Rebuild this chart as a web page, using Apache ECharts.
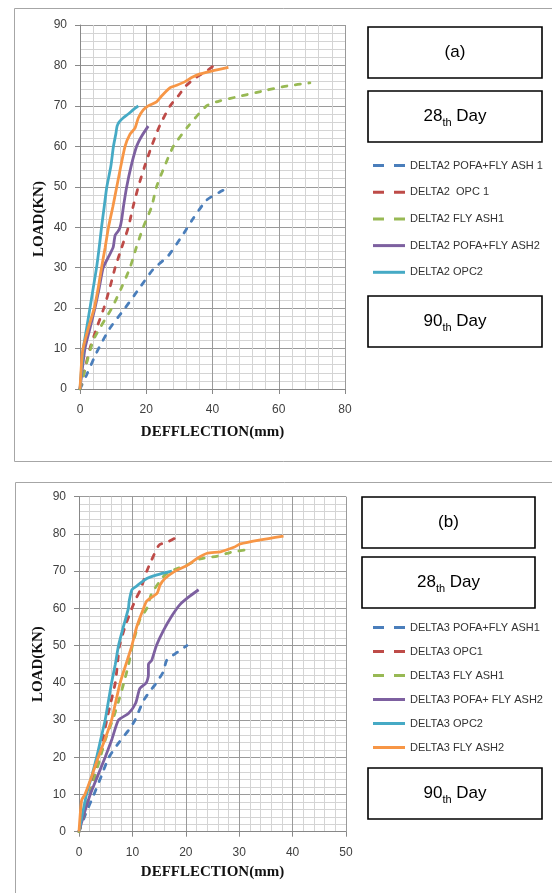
<!DOCTYPE html>
<html>
<head>
<meta charset="utf-8">
<script src="https://cdn.jsdelivr.net/npm/echarts@6/dist/echarts.min.js"></script>
<style>
html,body{margin:0;padding:0;background:#fff;}
#main{width:552px;height:893px;}
</style>
</head>
<body>
<div id="main"></div>
<script>
// panel (a) - DELTA2, [deflection mm, load kN]
var aPofaFly1 = [[0,0],[2,3.5],[5,9],[9,15],[13.6,20],[18,25],[22,29.5],[26.7,33],[30.7,37.7],[34.2,42.2],[38.2,46.7],[42,48.6],[45.3,50]];
var aOpc1 = [[0,0],[1.5,5],[3,10],[5,15],[7.2,20],[9,25],[10.6,30],[12.6,35],[14.6,40],[16,45],[17.6,50],[19.5,55],[21.6,60],[24,65],[27.2,70],[29.7,72.5],[32,75],[35,77],[38,78.5],[40.5,80]];
var aFly1 = [[0,0],[4,12],[9.6,20],[12.5,25],[15.1,30],[17,35],[19.1,40],[21.6,45],[23.1,50],[25.5,55],[28.2,60],[32.7,65],[38.2,70],[42,71.2],[47.8,72.3],[56.4,73.9],[62.4,74.9],[69.4,75.7]];
var aPofaFly2 = [[0,0],[1.5,10],[3,15],[4.5,20],[5.8,25],[7,30],[8.5,32.5],[10,35],[10.6,38],[11.5,39],[12.1,40],[12.6,42],[13.1,45],[14.1,50],[15.4,55],[17.1,60],[18.6,62.5],[20.6,65]];
var aOpc2 = [[0,0],[1,10],[2,15],[3,20],[4,25],[5,30],[5.8,35],[6.5,40],[7.3,45],[8.1,50],[9.3,55],[10.1,60],[10.8,63],[11.2,65],[11.8,66],[13,67],[14.6,68],[16,69],[17.6,70]];
var aFly2 = [[0,0],[0.8,9.5],[2.5,15],[4.3,20],[5.5,25],[6.5,30],[7.6,35],[8.6,40],[9.9,45],[11.1,50],[12.3,55],[13.6,60],[15.1,63],[16.6,64.5],[17.6,67],[19.1,69],[20.6,70],[23.1,71],[24.7,72.5],[27.2,74.5],[29.2,75.1],[31.7,76],[33.7,77],[36.2,77.9],[40.2,78.7],[44.8,79.5]];

// panel (b) - DELTA3
var bPofaFly1 = [[0,0],[1.3,5],[2.8,10],[4.2,15],[5.6,20],[7.5,24],[9.3,27.3],[10.5,30],[12,35],[13,37.2],[14.5,40],[15.8,43],[16.4,46],[17.7,47.5],[20.2,50]];
var bOpc1 = [[0,0],[1,5],[2,10],[2.8,15],[3.8,20],[4.5,25],[5.2,30],[6,35],[6.8,40],[7.2,45],[7.6,50],[8.6,55],[9.9,60],[10.8,63],[11.5,65],[12.7,70],[13.6,73],[15,77],[16.8,78],[18.2,79]];
var bFly1 = [[0,0],[1,5],[2,10],[3,15],[4,20],[5,25],[6.3,30],[7.4,35],[8.4,40],[9.3,45],[10,50],[11.4,57],[12.7,60],[13.6,64],[15,67],[16.1,69],[18,70.5],[20,71.5],[22.7,73.3],[25.8,74],[28.3,75],[31.5,75.8]];
var bPofaFly2 = [[0,0],[1,5],[2.1,10],[3.5,15],[4.9,20],[6.2,25],[7.4,30],[9.3,31.8],[10.6,34.5],[11.4,38.5],[12.6,40],[13,42],[13,45],[13.6,46],[14.5,50],[15.8,54],[17.4,58],[18.9,61],[20.5,63],[22.4,65]];
var bOpc2 = [[0,0],[1.4,10],[2.4,15],[3.3,20],[4.1,25],[4.9,30],[5.5,35],[6.1,40],[6.8,45],[7.4,50],[8.3,55],[9.25,60],[9.4,62],[9.9,65],[10.8,66],[12.7,68],[14.6,69],[17.4,70]];
var bFly2 = [[0,0],[0.5,8.5],[1.1,10],[2.4,15],[3.6,20],[4.9,25],[6.1,30],[6.9,35],[7.7,40],[8.8,45],[9.9,50],[10.8,55],[12.1,60],[12.7,62],[14.6,64],[15.2,66.3],[16.1,68],[18,70],[20.2,71.5],[22.1,73.4],[24,74.8],[26.5,75.2],[29,76.4],[30.2,77.3],[34,78.4],[38.3,79.4]];

var namesA = ['DELTA2 POFA+FLY ASH 1','DELTA2  OPC 1','DELTA2 FLY ASH1','DELTA2 POFA+FLY ASH2','DELTA2 OPC2','DELTA2 FLY ASH2'];
var namesB = ['DELTA3 POFA+FLY ASH1','DELTA3 OPC1','DELTA3 FLY ASH1','DELTA3 POFA+ FLY ASH2','DELTA3 OPC2','DELTA3 FLY ASH2'];
var colors = ['#4a7ebb','#be4b48','#98b954','#7d60a0','#46aac5','#f79646'];
var dashed = [true,true,true,false,false,false];

var chart = echarts.init(document.getElementById('main'));

function makeSeries(name, data, i, idx) {
    return {
        name: name,
        type: 'line',
        xAxisIndex: idx,
        yAxisIndex: idx,
        data: data,
        smooth: 0.2,
        symbol: 'none',
        animation: false,
        color: colors[i],
        lineStyle: {
            color: colors[i],
            width: 2.8,
            type: dashed[i] ? [5,8.5] : 'solid',
            cap: dashed[i] ? 'round' : 'butt'
        }
    };
}

// legend icons drawn as small paths: two dashes or one solid bar
function legendItems(names, count) {
    var out = [];
    for (var i = 0; i < count; i++) {
        out.push({
            name: names[i],
            icon: dashed[i] ? 'path://M0,0h11v3H0zM21,0h11v3H21z' : 'path://M0,0h32v3H0z'
        });
    }
    return out;
}

function valueAxis(gridIdx, max, interval, isX, nameGap, namePad) {
    return {
        type: 'value',
        gridIndex: gridIdx,
        min: 0,
        max: max,
        interval: interval,
        name: isX ? 'DEFFLECTION(mm)' : 'LOAD(KN)',
        nameLocation: 'middle',
        nameGap: nameGap,
        nameTextStyle: {
            fontFamily: 'Liberation Serif',
            fontWeight: 'bold',
            fontSize: 15,
            color: '#111',
            padding: namePad || 0
        },
        axisLine: {show: true, lineStyle: {color: '#888', width: 1}},
        axisTick: {show: true, length: 5, lineStyle: {color: '#888'}},
        axisLabel: {
            margin: isX ? 15 : 13,
            fontFamily: 'Liberation Sans',
            fontSize: 12,
            color: '#404040'
        },
        splitLine: {show: true, lineStyle: {color: '#9a9a9a', width: 1}},
        minorTick: {show: false, splitNumber: 5},
        minorSplitLine: {show: true, lineStyle: {color: '#d4d4d4', width: 1}}
    };
}

function box(x, y, w, h, txt) {
    return {
        type: 'group',
        children: [
            {type: 'rect', shape: {x: x, y: y, width: w, height: h},
             style: {fill: '#fff', stroke: '#000', lineWidth: 1.6}},
            {type: 'text', x: x + w / 2, y: y + h / 2,
             style: {text: txt, align: 'center', verticalAlign: 'middle',
                     fontFamily: 'Liberation Sans', fontSize: 17, fill: '#000',
                     rich: {
                         m: {fontFamily: 'Liberation Sans', fontSize: 17, lineHeight: 24, verticalAlign: 'middle'},
                         s: {fontFamily: 'Liberation Sans', fontSize: 11, lineHeight: 24, verticalAlign: 'bottom'}
                     }}}
        ]
    };
}

var seriesList = [];
var dataA = [aPofaFly1, aOpc1, aFly1, aPofaFly2, aOpc2, aFly2];
var dataB = [bPofaFly1, bOpc1, bFly1, bPofaFly2, bOpc2, bFly2];
for (var i = 0; i < 6; i++) {
    seriesList.push(makeSeries(namesA[i], dataA[i], i, 0));
}
for (var j = 0; j < 6; j++) {
    seriesList.push(makeSeries(namesB[j], dataB[j], j, 1));
}

var legendText = {fontFamily: 'Liberation Sans', fontSize: 11, color: '#333'};

var option = {
    backgroundColor: '#fff',
    animation: false,
    grid: [
        {left: 80, top: 25, width: 265, height: 364},
        {left: 79, top: 496.7, width: 267, height: 335}
    ],
    xAxis: [
        valueAxis(0, 80, 20, true, 36),
        valueAxis(1, 50, 10, true, 33)
    ],
    yAxis: [
        valueAxis(0, 90, 10, false, 33, [0, 24, 0, 0]),
        valueAxis(1, 90, 10, false, 33)
    ],
    legend: [
        {
            orient: 'vertical', left: 373, top: 160, padding: 0,
            itemWidth: 32, itemHeight: 12, itemGap: 15.7, symbolKeepAspect: true,
            textStyle: legendText,
            data: legendItems(namesA, 5)
        },
        {
            orient: 'vertical', left: 373, top: 622, padding: 0,
            itemWidth: 32, itemHeight: 12, itemGap: 13, symbolKeepAspect: true,
            textStyle: legendText,
            data: legendItems(namesB, 6)
        }
    ],
    graphic: [
        {type: 'rect', shape: {x: 14.5, y: 8.5, width: 600, height: 453},
         style: {fill: 'none', stroke: '#a6a6a6', lineWidth: 1}, z: -1},
        {type: 'rect', shape: {x: 15.5, y: 482.5, width: 600, height: 500},
         style: {fill: 'none', stroke: '#a6a6a6', lineWidth: 1}, z: -1},
        box(368, 27, 174, 51, '(a)'),
        box(368, 91, 174, 51, '{m|28}{s|th}{m| Day}'),
        box(368, 296, 174, 51, '{m|90}{s|th}{m| Day}'),
        box(362, 497, 173, 51, '(b)'),
        box(362, 557, 173, 51, '{m|28}{s|th}{m| Day}'),
        box(368, 768, 174, 51, '{m|90}{s|th}{m| Day}')
    ],
    series: seriesList
};

chart.setOption(option);
</script>
</body>
</html>
